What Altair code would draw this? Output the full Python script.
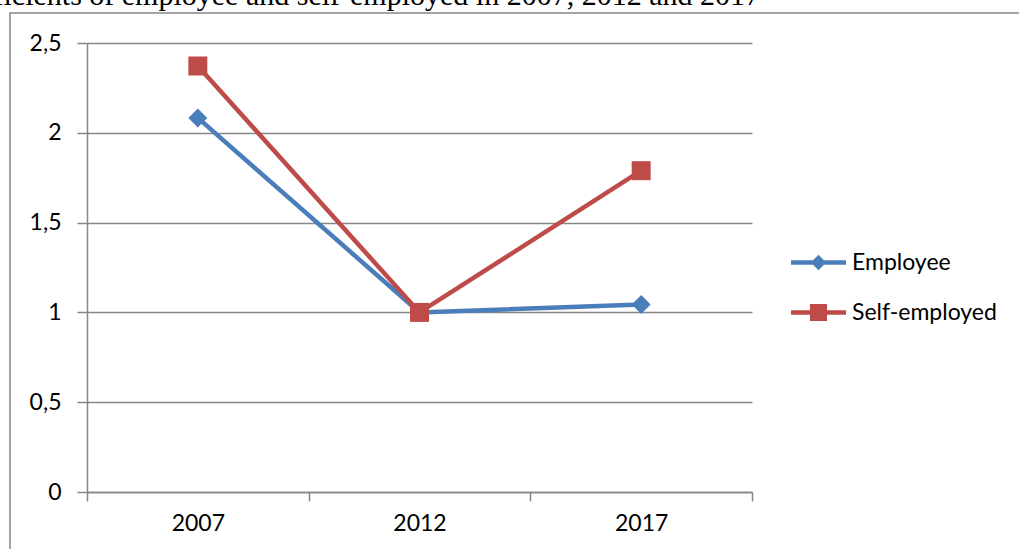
import altair as alt
import pandas as pd

years = ["2007", "2012", "2017"]
employee = [2.083, 1.0, 1.044]
self_employed = [2.372, 1.0, 1.789]
series_names = ["Employee", "Self-employed"]
series_colors = ["#4a7ebb", "#be4b48"]
marker_shapes = ["diamond", "square"]
y_ticks = [0, 0.5, 1, 1.5, 2, 2.5]
title_text = "Coefficients of employee and self-employed in 2007, 2012 and 2017"

rows = []
for name, vals in zip(series_names, [employee, self_employed]):
    for yr, v in zip(years, vals):
        rows.append({"year": yr, "value": v, "series": name})
df = pd.DataFrame(rows)

W, H = 665, 449
PADL, PADT = 87, 43
GRID = "#868686"
FONT = "Lato"
FS = 23

x_enc = alt.X("year:N", sort=years, title=None,
              scale=alt.Scale(paddingInner=0, paddingOuter=0),
              axis=alt.Axis(tickBand="extent", labelAngle=0, grid=False,
                            domainColor=GRID, domainWidth=1.5, tickColor=GRID,
                            tickWidth=1.5, tickSize=9, labelFont=FONT,
                            labelFontSize=FS, labelColor="black",
                            labelPadding=11))
y_enc = alt.Y("value:Q", title=None,
              scale=alt.Scale(domain=[0, 2.5], nice=False),
              axis=alt.Axis(values=y_ticks, grid=True, gridColor=GRID,
                            gridWidth=1.5, domainColor=GRID, domainWidth=1.5,
                            tickColor=GRID, tickWidth=1.5, tickSize=10,
                            labelFont=FONT, labelFontSize=FS,
                            labelColor="black", labelPadding=16,
                            labelExpr="replace(toString(datum.value), '.', ',')"))

base = alt.Chart(df)

layers = []
for name, col in zip(series_names, series_colors):
    layers.append(base.transform_filter(alt.datum.series == name)
                  .mark_line(color=col, strokeWidth=4.5)
                  .encode(x=x_enc, y=y_enc))
for name, col, shp in zip(series_names, series_colors, marker_shapes):
    layers.append(base.transform_filter(alt.datum.series == name)
                  .mark_point(filled=True, shape=shp, size=360, color=col,
                              opacity=1, strokeWidth=0)
                  .encode(x=x_enc, y=y_enc))

diamond_path = ("M-1,-0.08L1,-0.08L1,0.08L-1,0.08Z "
                "M0,-0.28L0.28,0L0,0.28L-0.28,0Z")
square_path = ("M-1,-0.08L1,-0.08L1,0.08L-1,0.08Z "
               "M-0.31,-0.31L0.31,-0.31L0.31,0.31L-0.31,0.31Z")

leg = alt.Legend(title=None, orient="none", legendX=704, legendY=192,
                 symbolSize=3025, symbolOpacity=1, symbolStrokeWidth=0,
                 labelFont=FONT, labelFontSize=FS, labelColor="black",
                 labelOffset=6, rowPadding=10)
legend_layer = base.mark_point(filled=True, opacity=0).encode(
    x=x_enc, y=y_enc,
    color=alt.Color("series:N", sort=series_names,
                    scale=alt.Scale(domain=series_names, range=series_colors),
                    legend=leg),
    shape=alt.Shape("series:N", sort=series_names,
                    scale=alt.Scale(domain=series_names,
                                    range=[diamond_path, square_path]),
                    legend=leg),
)

frame_df = pd.DataFrame({"k": [0]})
frame = alt.Chart(frame_df).mark_rect(fill="white", fillOpacity=0,
                                      stroke="#878787", strokeWidth=1.5).encode(
    x=alt.value(10 - PADL), x2=alt.value(1019 - PADL + 20),
    y=alt.value(13 - PADT), y2=alt.value(549 - PADT + 20))

title = alt.Chart(frame_df).mark_text(
    font="Liberation Serif", fontSize=30, align="right",
    baseline="alphabetic", color="black").encode(
    x=alt.value(760 - PADL), y=alt.value(5 - PADT), text=alt.value(title_text))

chart = alt.layer(frame, title, *layers, legend_layer).properties(
    width=W, height=H,
    padding={"left": PADL, "top": PADT, "right": 1019 - PADL - W,
             "bottom": 549 - PADT - H},
    autosize=alt.AutoSizeParams(type="none"),
    background="white",
).configure_view(stroke=None)

chart.save("out.html", embed_options={"renderer": "svg", "actions": False})
